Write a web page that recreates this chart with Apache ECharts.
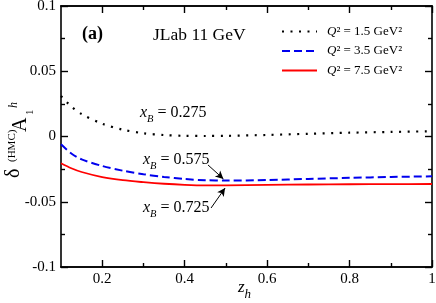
<!DOCTYPE html>
<html>
<head>
<meta charset="utf-8">
<script src="https://cdn.jsdelivr.net/npm/echarts@6/dist/echarts.min.js"></script>
<style>html,body{margin:0;padding:0;background:#fff;}#c{width:436px;height:303px;}</style>
</head>
<body>
<div id="c"></div>
<script>
// ---- data ----
const zh = [0.1, 0.125, 0.15, 0.2, 0.25, 0.3, 0.35, 0.4, 0.45, 0.5, 0.6, 0.7, 0.8, 0.9, 1.0];
const q2_15 = [0.031, 0.023, 0.0172, 0.0098, 0.0052, 0.0025, 0.0011, 0.0005, 0.0004, 0.0005, 0.0012, 0.0021, 0.0029, 0.0035, 0.0040];
const q2_35 = [-0.006, -0.0130, -0.0175, -0.0226, -0.0262, -0.0289, -0.0310, -0.0326, -0.0335, -0.0338, -0.0334, -0.0325, -0.0317, -0.0310, -0.0305];
const q2_75 = [-0.0205, -0.0243, -0.0272, -0.0311, -0.0335, -0.0350, -0.0362, -0.0370, -0.0374, -0.0374, -0.0371, -0.0368, -0.0366, -0.0365, -0.0364];
const seriesNames = ['Q² = 1.5 GeV²', 'Q² = 3.5 GeV²', 'Q² = 7.5 GeV²'];
const xMajorTicks = [0.2, 0.4, 0.6, 0.8, 1.0];
const xMinorTicks = [0.3, 0.5, 0.7, 0.9];
const xbLabels = ['0.275', '0.575', '0.725'];
const arrow575 = [[0.4566, -0.0218], [0.494, -0.0325]];
const arrow725 = [[0.464, -0.0548], [0.498, -0.0395]];

const FONT = "'Liberation Serif', 'Times New Roman', serif";
const chart = echarts.init(document.getElementById('c'), null, {renderer: 'canvas'});

function pair(arr) { return zh.map((z, i) => [z, arr[i]]); }

const axisLine = {show: true, onZero: false, lineStyle: {color: '#000', width: 1.6}};
function xAx(pos, ticks, len, labels) {
  return {
    type: 'value', position: pos, min: 0.1, max: 1,
    axisLine: axisLine,
    axisTick: {show: true, inside: true, length: len, customValues: ticks, lineStyle: {color: '#000', width: 1.4}},
    axisLabel: labels ? {show: true, customValues: xMajorTicks, color: '#000', fontFamily: FONT, fontSize: 15, margin: 5,
      formatter: v => (Math.abs(v - 1) < 1e-9 ? '1' : v.toFixed(1))} : {show: false},
    splitLine: {show: false}
  };
}
function yAx(pos, labels) {
  return {
    type: 'value', position: pos, min: -0.1, max: 0.1, interval: 0.05,
    axisLine: axisLine,
    axisTick: {show: true, inside: true, length: 7, lineStyle: {color: '#000', width: 1.4}},
    minorTick: {show: true, splitNumber: 2, length: 4, lineStyle: {color: '#000', width: 1.4}},
    axisLabel: labels ? {show: true, color: '#000', fontFamily: FONT, fontSize: 15, margin: 5,
      formatter: v => (Math.abs(v) < 1e-12 ? '0' : String(+v.toFixed(3)))} : {show: false},
    splitLine: {show: false}, minorSplitLine: {show: false}
  };
}

const xbRich = {
  i: {fontFamily: FONT, fontSize: 16, fontStyle: 'italic', color: '#000', lineHeight: 16, verticalAlign: 'top'},
  s: {fontFamily: FONT, fontSize: 10.5, fontStyle: 'italic', color: '#000', lineHeight: 10, padding: [9, 0, 0, 0], verticalAlign: 'top'},
  n: {fontFamily: FONT, fontSize: 16, color: '#000', lineHeight: 16, verticalAlign: 'top'}
};
function xbText(val, left, top) {
  return {type: 'text', x: left, y: top, style: {text: '{i|x}{s|B}{n| = ' + val + '}', rich: xbRich, font: '16px ' + FONT}};
}

const arrowLine = (pts) => ({
  silent: true, symbol: ['none', 'arrow'], symbolSize: [6, 8], animation: false,
  label: {show: false}, lineStyle: {color: '#000', width: 1, type: 'solid'},
  emphasis: {disabled: true},
  data: [[{coord: pts[0]}, {coord: pts[1]}]]
});

const option = {
  animation: false,
  grid: {left: 61, right: 4, top: 6, bottom: 36, containLabel: false, outerBoundsMode: 'none'},
  xAxis: [
    xAx('bottom', xMajorTicks, 7, true),
    xAx('bottom', xMinorTicks, 4, false),
    xAx('top', xMajorTicks, 7, false),
    xAx('top', xMinorTicks, 4, false)
  ],
  yAxis: [yAx('left', true), yAx('right', false)],
  legend: {
    orient: 'vertical', left: 276, top: 20, itemWidth: 35, itemHeight: 14, itemGap: 6.5,
    selectedMode: false,
    data: seriesNames,
    itemStyle: {opacity: 0},
    formatter: name => '{i|Q}{n|' + name.slice(1) + '}',
    textStyle: {color: '#000', fontFamily: FONT, fontSize: 13, padding: [0, 0, 0, 5],
      rich: {i: {fontFamily: FONT, fontSize: 13, fontStyle: 'italic', color: '#000'},
             n: {fontFamily: FONT, fontSize: 13, color: '#000'}}}
  },
  series: [
    {name: seriesNames[0], type: 'line', data: pair(q2_15), smooth: 0.3, symbol: 'none', showSymbol: false,
      lineStyle: {color: '#000', width: 2.2, type: [2, 6.5], cap: 'butt'}, itemStyle: {color: '#000'}},
    {name: seriesNames[1], type: 'line', data: pair(q2_35), smooth: 0.3, symbol: 'none', showSymbol: false,
      lineStyle: {color: '#0000ee', width: 2, type: [8, 4]}, itemStyle: {color: '#0000ee'},
      markLine: arrowLine(arrow575)},
    {name: seriesNames[2], type: 'line', data: pair(q2_75), smooth: 0.3, symbol: 'none', showSymbol: false,
      lineStyle: {color: '#ff0000', width: 1.8, type: 'solid'}, itemStyle: {color: '#ff0000'},
      markLine: arrowLine(arrow725)}
  ],
  graphic: [
    {type: 'text', x: 82, y: 25, style: {text: '(a)', font: 'bold 18px ' + FONT, fill: '#000'}},
    {type: 'text', x: 153, y: 26, style: {text: 'JLab 11 GeV', font: '17.5px ' + FONT, fill: '#000'}},
    xbText(xbLabels[0], 140, 105),
    xbText(xbLabels[1], 143, 152),
    xbText(xbLabels[2], 143, 200),
    {type: 'text', x: 238, y: 279, style: {text: '{z|z}{h|h}', font: '17px ' + FONT, rich: {
      z: {fontFamily: FONT, fontSize: 17, fontStyle: 'italic', color: '#000', lineHeight: 16, verticalAlign: 'top'},
      h: {fontFamily: FONT, fontSize: 13, fontStyle: 'italic', color: '#000', lineHeight: 12, padding: [9, 0, 0, 0], verticalAlign: 'top'}
    }}},
    {type: 'group', x: 17, y: 178, rotation: Math.PI / 2, children: [
      {type: 'text', x: 0, y: -3.5, style: {text: 'δ', font: '20px ' + FONT, fill: '#000', textAlign: 'left', textVerticalAlign: 'middle'}},
      {type: 'text', x: 16, y: -4.5, style: {text: '(HMC)', font: '11px ' + FONT, fill: '#000', textAlign: 'left', textVerticalAlign: 'middle'}},
      {type: 'text', x: 46, y: 4, style: {text: 'A', font: '20px ' + FONT, fill: '#000', textAlign: 'left', textVerticalAlign: 'middle'}},
      {type: 'text', x: 63, y: 13, style: {text: '1', font: '11px ' + FONT, fill: '#000', textAlign: 'left', textVerticalAlign: 'middle'}},
      {type: 'text', x: 70, y: -3, style: {text: 'h', font: 'italic 12px ' + FONT, fill: '#000', textAlign: 'left', textVerticalAlign: 'middle'}}
    ]}
  ]
};
chart.setOption(option);
</script>
</body>
</html>
